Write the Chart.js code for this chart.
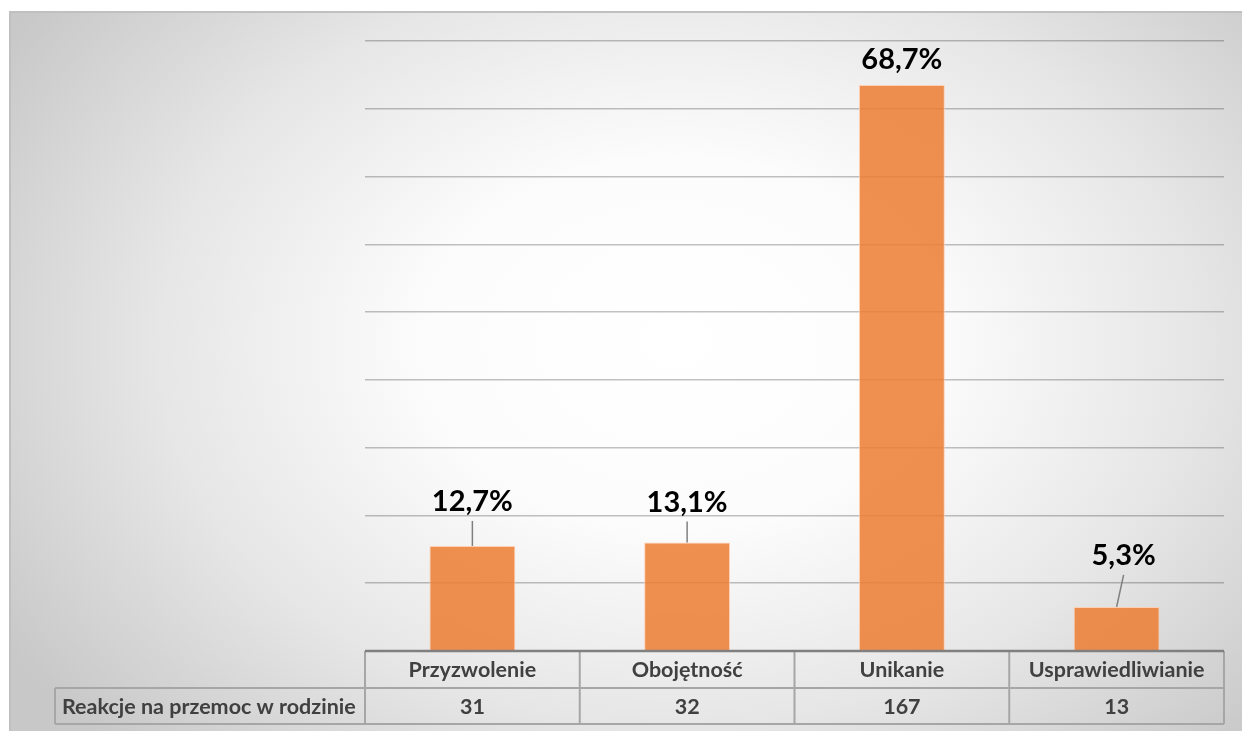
<!DOCTYPE html>
<html lang="pl">
<head>
<meta charset="utf-8">
<title>Reakcje na przemoc w rodzinie</title>
<script src="https://cdn.jsdelivr.net/npm/chart.js@4/dist/chart.umd.min.js"></script>
<style>
    html, body { margin: 0; padding: 0; background: #ffffff; overflow: hidden; }
    #ramka {
        position: absolute;
        left: 9px;
        top: 11px;
        width: 1233px;
        height: 720px;
        border-left: 2px solid #c0c0c0;
        border-top: 2px solid #c0c0c0;
        background: radial-gradient(ellipse 64% 80% at 54% 46%, #ffffff 0%, #fcfcfc 32%, #e6e6e6 66%, #c8c8c8 100%);
    }
    #wykres { position: absolute; left: 0; top: 0; }
</style>
</head>
<body>
<div id="ramka"></div>
<canvas id="wykres" width="1242" height="731"></canvas>
<script>
// Dane
const kategorie = ['Przyzwolenie', 'Obojętność', 'Unikanie', 'Usprawiedliwianie'];
const liczby = [31, 32, 167, 13];
const procenty = ['12,7%', '13,1%', '68,7%', '5,3%'];
const nazwaSerii = 'Reakcje na przemoc w rodzinie';

// Skala osi Y (ukryte etykiety, tylko linie siatki)
const osMin = 0;
const osMax = 180;
const osKrok = 20;

// Ręczne przesunięcia etykiet (jak w Excelu): ile px nad słupkiem i w bok
const etykietaWyzej = [44, 40, 25, 51];
const etykietaBok = [0, 0, 0, 7];

const FONT = 'Lato, "Open Sans", "Noto Sans", sans-serif';

// Plugin z etykietami procentowymi i liniami odniesienia
const etykietyPlugin = {
    id: 'etykiety',
    afterDatasetsDraw(chart) {
        const ctx = chart.ctx;
        const meta = chart.getDatasetMeta(0);
        ctx.save();
        meta.data.forEach((bar, i) => {
            const tx = bar.x + etykietaBok[i];
            const ty = bar.y - etykietaWyzej[i];
            ctx.font = 'bold 29px ' + FONT;
            ctx.fillStyle = '#000000';
            ctx.textAlign = 'center';
            ctx.textBaseline = 'middle';
            ctx.fillText(procenty[i], tx, ty);

            // linia odniesienia tylko gdy etykieta jest daleko od słupka
            if (etykietaWyzej[i] > 30) {
                ctx.strokeStyle = '#7f7f7f';
                ctx.lineWidth = 1.5;
                ctx.beginPath();
                ctx.moveTo(tx, ty + 19);
                ctx.lineTo(bar.x, bar.y);
                ctx.stroke();
            }
        });
        ctx.restore();
    }
};

// Plugin rysujący tabelę danych pod wykresem
const tabelaPlugin = {
    id: 'tabela',
    afterDraw(chart) {
        const ctx = chart.ctx;
        const area = chart.chartArea;
        const xScale = chart.scales.x;
        const szer = (area.right - area.left) / kategorie.length;
        const y0 = area.bottom;
        const y1 = y0 + 37;
        const y2 = y1 + 36;
        const lewaKrawedz = 55;

        ctx.save();
        ctx.strokeStyle = '#a6a6a6';
        ctx.lineWidth = 2;

        // poziome linie
        ctx.beginPath();
        ctx.moveTo(lewaKrawedz, y1);
        ctx.lineTo(area.right, y1);
        ctx.moveTo(lewaKrawedz, y2);
        ctx.lineTo(area.right, y2);
        ctx.stroke();

        // pionowe linie
        ctx.beginPath();
        ctx.moveTo(lewaKrawedz, y1);
        ctx.lineTo(lewaKrawedz, y2);
        for (let i = 0; i <= kategorie.length; i++) {
            const x = area.left + i * szer;
            ctx.moveTo(x, y0);
            ctx.lineTo(x, y2);
        }
        ctx.stroke();

        // oś pozioma (ciemniejsza)
        ctx.strokeStyle = '#808080';
        ctx.lineWidth = 2.5;
        ctx.beginPath();
        ctx.moveTo(area.left, y0);
        ctx.lineTo(area.right, y0);
        ctx.stroke();

        // teksty
        ctx.fillStyle = '#404040';
        ctx.font = 'bold 21.5px ' + FONT;
        ctx.textBaseline = 'middle';
        ctx.textAlign = 'center';
        kategorie.forEach((nazwa, i) => {
            const x = xScale.getPixelForValue(i);
            ctx.fillText(nazwa, x, (y0 + y1) / 2 + 1);
            ctx.fillText(String(liczby[i]), x, (y1 + y2) / 2 + 1);
        });
        ctx.textAlign = 'left';
        ctx.fillText(nazwaSerii, lewaKrawedz + 7, (y1 + y2) / 2 + 1);
        ctx.restore();
    }
};

function rysujWykres() {
    const ctx = document.getElementById('wykres').getContext('2d');
    return new Chart(ctx, {
        type: 'bar',
        data: {
            labels: kategorie,
            datasets: [{
                label: nazwaSerii,
                data: liczby,
                backgroundColor: 'rgba(237, 125, 49, 0.85)',
                borderColor: 'rgba(255, 205, 175, 0.9)',
                borderWidth: 1,
                categoryPercentage: 1,
                barPercentage: 0.4
            }]
        },
        options: {
            responsive: false,
            animation: false,
            layout: {
                padding: { left: 365, right: 18, top: 41, bottom: 80 }
            },
            plugins: {
                legend: { display: false },
                tooltip: { enabled: false }
            },
            scales: {
                x: { display: false },
                y: {
                    min: osMin,
                    max: osMax,
                    ticks: { display: false, stepSize: osKrok },
                    border: { display: false },
                    grid: { color: 'rgba(0, 0, 0, 0.24)', lineWidth: 1.5, drawTicks: false }
                }
            }
        },
        plugins: [etykietyPlugin, tabelaPlugin]
    });
}

rysujWykres();
</script>
</body>
</html>
